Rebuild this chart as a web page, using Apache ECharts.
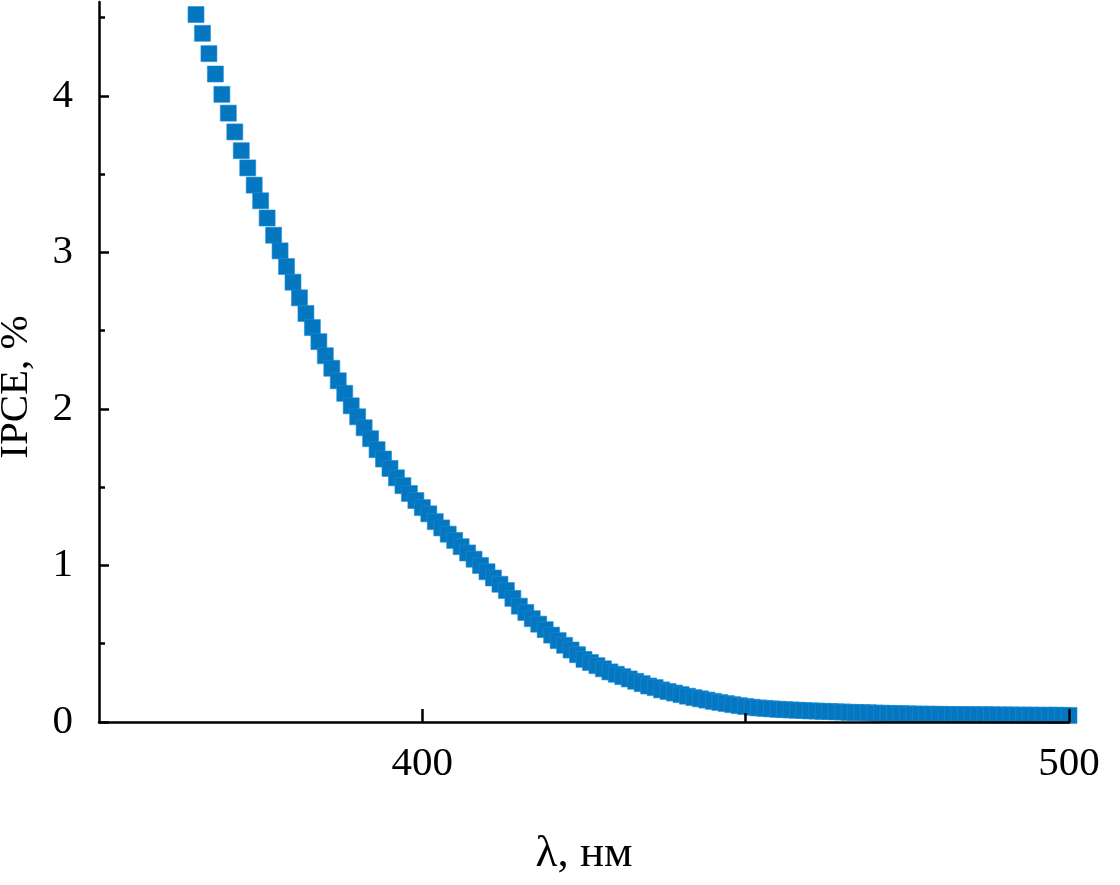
<!DOCTYPE html>
<html><head><meta charset="utf-8">
<script src="https://cdn.jsdelivr.net/npm/echarts@6/dist/echarts.min.js"></script>
<style>html,body{margin:0;padding:0;background:#fff}#c{width:1120px;height:885px}</style>
</head><body><div id="c"></div>
<script>
// wavelength, nm
const wavelength = [
365,366,367,368,369,370,371,372,373,374,375,376,377,378,379,380,381,382,383,384,
385,386,387,388,389,390,391,392,393,394,395,396,397,398,399,400,401,402,403,404,
405,406,407,408,409,410,411,412,413,414,415,416,417,418,419,420,421,422,423,424,
425,426,427,428,429,430,431,432,433,434,435,436,437,438,439,440,441,442,443,444,
445,446,447,448,449,450,451,452,453,454,455,456,457,458,459,460,461,462,463,464,
465,466,467,468,469,470,471,472,473,474,475,476,477,478,479,480,481,482,483,484,
485,486,487,488,489,490,491,492,493,494,495,496,497,498,499,500];
// IPCE, %
const ipce = [
4.52,4.40,4.27,4.14,4.01,3.89,3.77,3.65,3.54,3.43,3.33,3.22,3.11,3.01,2.91,2.81,2.71,2.61,2.52,2.43,
2.34,2.26,2.18,2.10,2.02,1.95,1.88,1.81,1.74,1.68,1.62,1.56,1.51,1.46,1.415,1.37,1.33,1.28,1.24,1.20,
1.16,1.12,1.08,1.04,1.00,0.96,0.92,0.88,0.84,0.79,0.74,0.70,0.66,0.625,0.59,0.555,0.52,0.49,0.46,0.43,
0.40,0.38,0.36,0.34,0.32,0.305,0.29,0.275,0.26,0.245,0.23,0.22,0.205,0.195,0.185,0.175,0.165,0.156,0.148,0.140,
0.132,0.125,0.118,0.111,0.105,0.099,0.094,0.090,0.087,0.084,0.081,0.079,0.077,0.075,0.073,0.071,0.070,0.068,0.067,0.065,
0.064,0.062,0.061,0.060,0.059,0.057,0.056,0.055,0.054,0.053,0.052,0.051,0.050,0.050,0.049,0.049,0.048,0.048,0.047,0.047,
0.047,0.046,0.046,0.046,0.045,0.045,0.045,0.044,0.044,0.044,0.043,0.043,0.043,0.043,0.042,0.042];

const xLabelValues = [400, 500];
const xMajorTicks = [400, 500];
const xMinorTicks = [450];
const yLabelValues = [0, 1, 2, 3, 4];
const yMajorTicks = [0, 1, 2, 3, 4];
const yMinorTicks = [0.5, 1.5, 2.5, 3.5, 4.5];
const xName = 'λ, нм';
const yName = 'IPCE, %';

const font = '"Liberation Serif", "Times New Roman", serif';
const chart = echarts.init(document.getElementById('c'), null, {renderer: 'canvas'});
const pts = wavelength.map((w, i) => [w, ipce[i]]);

chart.setOption({
  animation: false,
  backgroundColor: '#ffffff',
  grid: {left: 99, right: 51, top: 2, bottom: 163, containLabel: false, outerBoundsMode: 'none'},
  xAxis: [{
    type: 'value', min: 350, max: 500, interval: 50, position: 'bottom', z: 5,
    name: xName, nameLocation: 'middle', nameGap: 110,
    nameTextStyle: {fontFamily: font, fontSize: 45, color: '#000'},
    axisLine: {show: true, onZero: false, lineStyle: {color: '#000', width: 2.5}},
    axisTick: {show: true, inside: true, length: 13, customValues: xMajorTicks, lineStyle: {color: '#000', width: 2.5}},
    axisLabel: {show: true, customValues: xLabelValues, margin: 22, fontFamily: font, fontSize: 41, color: '#000'},
    splitLine: {show: false}
  }, {
    type: 'value', min: 350, max: 500, interval: 50, position: 'bottom', gridIndex: 0, z: 5,
    axisLine: {show: false, onZero: false},
    axisTick: {show: true, inside: true, length: 9, customValues: xMinorTicks, lineStyle: {color: '#000', width: 2.5}},
    axisLabel: {show: false},
    splitLine: {show: false}
  }],
  yAxis: [{
    type: 'value', min: 0, max: 4.6, interval: 1, position: 'left', z: 5,
    name: yName, nameLocation: 'middle', nameGap: 62, nameRotate: 90,
    nameTextStyle: {fontFamily: font, fontSize: 41, color: '#000', padding: [0, 50, 0, 0]},
    axisLine: {show: true, onZero: false, lineStyle: {color: '#000', width: 2.5}},
    axisTick: {show: true, inside: true, length: 10, customValues: yMajorTicks, lineStyle: {color: '#000', width: 2.5}},
    axisLabel: {show: true, customValues: yLabelValues, margin: 26, fontFamily: font, fontSize: 41, color: '#000'},
    splitLine: {show: false}
  }, {
    type: 'value', min: 0, max: 4.6, interval: 1, position: 'left', gridIndex: 0, z: 5,
    axisLine: {show: false, onZero: false},
    axisTick: {show: true, inside: true, length: 6, customValues: yMinorTicks, lineStyle: {color: '#000', width: 2.5}},
    axisLabel: {show: false},
    splitLine: {show: false}
  }],
  series: [{
    type: 'scatter', xAxisIndex: 0, yAxisIndex: 0,
    symbol: 'rect', symbolSize: 16,
    itemStyle: {color: '#0576c0', borderColor: '#1d8fd8', borderWidth: 0.6, opacity: 1},
    data: pts
  }]
});
</script>
</body></html>
